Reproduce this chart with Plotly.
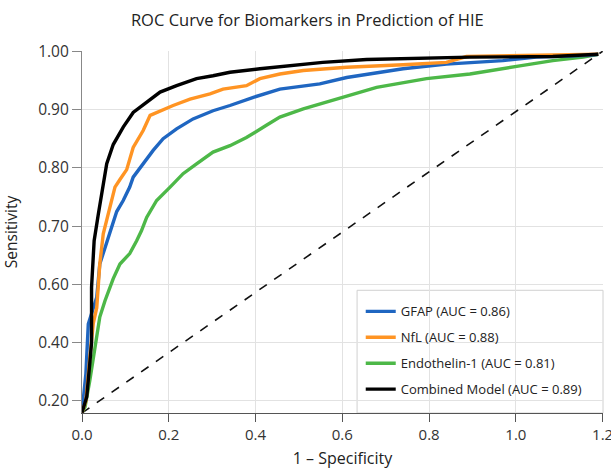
import numpy as np
import plotly.graph_objects as go

# ---- data ----
y_tick_labels = [0.20, 0.40, 0.60, 0.70, 0.80, 0.90, 1.00]
x_ticks = [0.0, 0.2, 0.4, 0.6, 0.8, 1.0, 1.2]

gfap_fpr = [0, 0.009, 0.0145, 0.034, 0.041, 0.064, 0.08, 0.095, 0.11, 0.118, 0.141, 0.164,
            0.187, 0.218, 0.256, 0.302, 0.341, 0.395, 0.456, 0.548, 0.61, 0.74, 0.84, 0.97,
            1.047, 1.17, 1.19]
gfap_tpr = [0.16, 0.294, 0.464, 0.556, 0.635, 0.69, 0.725, 0.744, 0.767, 0.784, 0.807, 0.83,
            0.85, 0.867, 0.884, 0.898, 0.907, 0.921, 0.935, 0.944, 0.955, 0.97, 0.978, 0.984,
            0.99, 0.993, 0.995]

nfl_fpr = [0, 0.009, 0.018, 0.026, 0.034, 0.041, 0.049, 0.0645, 0.076, 0.0875, 0.103, 0.118,
           0.141, 0.157, 0.18, 0.21, 0.249, 0.295, 0.325, 0.379, 0.41, 0.456, 0.51, 0.61,
           0.74, 0.84, 0.886, 1.085, 1.19]
nfl_tpr = [0.16, 0.20, 0.35, 0.466, 0.52, 0.635, 0.687, 0.73, 0.767, 0.78, 0.797, 0.835,
           0.864, 0.89, 0.898, 0.907, 0.918, 0.927, 0.935, 0.941, 0.953, 0.961, 0.967, 0.9725,
           0.977, 0.981, 0.991, 0.993, 0.995]

endo_fpr = [0, 0.007, 0.018, 0.026, 0.034, 0.041, 0.053, 0.072, 0.0875, 0.11, 0.126, 0.137,
            0.149, 0.172, 0.203, 0.233, 0.264, 0.302, 0.341, 0.379, 0.425, 0.456, 0.51, 0.587,
            0.679, 0.794, 0.894, 1.009, 1.085, 1.155, 1.19]
endo_tpr = [0.16, 0.18, 0.27, 0.35, 0.43, 0.488, 0.544, 0.61, 0.635, 0.653, 0.675, 0.692,
            0.715, 0.744, 0.767, 0.79, 0.807, 0.827, 0.838, 0.852, 0.873, 0.887, 0.901, 0.918,
            0.938, 0.953, 0.961, 0.975, 0.984, 0.99, 0.995]

comb_fpr = [0, 0.005, 0.011, 0.018, 0.022, 0.022, 0.028, 0.0375, 0.049, 0.057, 0.072, 0.095,
            0.118, 0.149, 0.18, 0.218, 0.264, 0.302, 0.341, 0.41, 0.486, 0.555, 0.656, 0.894,
            1.085, 1.19]
comb_tpr = [0.16, 0.19, 0.215, 0.33, 0.40, 0.59, 0.675, 0.72, 0.77, 0.807, 0.84, 0.87,
            0.895, 0.912, 0.93, 0.941, 0.953, 0.958, 0.964, 0.97, 0.975, 0.981, 0.986, 0.99,
            0.991, 0.995]

diag_fpr = [0.0, 1.2]
diag_tpr = [0.159, 1.0]

series_names = ["GFAP (AUC = 0.86)", "NfL (AUC = 0.88)",
                "Endothelin-1 (AUC = 0.81)", "Combined Model (AUC = 0.89)"]
series_colors = ["#1f66c1", "#ff9423", "#4db848", "#000000"]


# ---- y scale: the reference axis spaces its labelled ticks evenly ----
def yscale(v):
    v = np.asarray(v, dtype=float)
    idx = np.arange(len(y_tick_labels), dtype=float)
    below = (v - y_tick_labels[0]) / (y_tick_labels[1] - y_tick_labels[0])
    return np.where(v < y_tick_labels[0], below, np.interp(v, y_tick_labels, idx))


FONT = "Open Sans, Noto Sans, DejaVu Sans, sans-serif"

fig = go.Figure()

fig.add_trace(go.Scatter(x=diag_fpr, y=yscale(diag_tpr), mode="lines",
                         line=dict(color="#111111", width=1.6, dash="dash"),
                         showlegend=False, hoverinfo="skip"))

order = [(endo_fpr, endo_tpr, 2), (gfap_fpr, gfap_tpr, 0), (nfl_fpr, nfl_tpr, 1),
         (comb_fpr, comb_tpr, 3)]
for fx, ty, k in order:
    fig.add_trace(go.Scatter(x=fx, y=yscale(ty), mode="lines", name=series_names[k],
                             line=dict(color=series_colors[k], width=3.4),
                             legendgroup=f"g{k}", legendrank=k + 1))

ybottom = float(yscale([0.1588])[0])

fig.update_layout(
    width=611, height=470,
    margin=dict(l=82, r=8, t=51, b=57),
    paper_bgcolor="white", plot_bgcolor="white",
    font=dict(family=FONT, color="#333333", size=14),
    title=dict(text="ROC Curve for Biomarkers in Prediction of HIE",
               x=0.503, xanchor="center", y=0.957, yanchor="middle", automargin=False,
               font=dict(family=FONT, size=16.5, color="#222222")),
    xaxis=dict(range=[0, 1.2008], tickvals=x_ticks, tickformat=".1f", automargin=False,
               ticklabeloverflow="allow",
               showgrid=True, gridcolor="#e2e2e2", gridwidth=1,
               showline=True, linecolor="#555555", linewidth=1.2,
               ticks="outside", ticklen=8, tickcolor="#555555",
               tickfont=dict(size=15, color="#333333"), zeroline=False,
               title=dict(text="1 – Specificity", standoff=9,
                          font=dict(size=16, color="#222222"))),
    yaxis=dict(range=[ybottom, 6.005], automargin=False,
               tickvals=list(range(len(y_tick_labels))),
               ticktext=[f"{v:.2f}" for v in y_tick_labels],
               showgrid=True, gridcolor="#e2e2e2", gridwidth=1,
               showline=True, linecolor="#888888", linewidth=1.2,
               ticks="outside", ticklen=9, tickcolor="#888888",
               tickfont=dict(size=15.5, color="#333333"), zeroline=False,
               title=dict(text="Sensitivity", standoff=19,
                          font=dict(size=15.5, color="#222222"))),
    legend=dict(x=0.535, y=0.322, xanchor="left", yanchor="top",
                bgcolor="rgba(0,0,0,0)", borderwidth=0,
                font=dict(size=13, color="#222222"),
                traceorder="grouped", tracegroupgap=6,
                itemwidth=30),
    shapes=[dict(type="rect", xref="paper", yref="paper", x0=0.528, x1=1.0, y0=0.0, y1=0.339,
                 fillcolor="white", line=dict(color="#d0d0d0", width=1), layer="between")],
)

# remove the default page margin so the 611x470 figure fills the window exactly
fig.write_html(
    "out.html",
    config={"displayModeBar": False},
    post_script="document.documentElement.style.overflow='hidden';"
                "document.body.style.margin='0px';document.body.style.overflow='hidden';",
)
